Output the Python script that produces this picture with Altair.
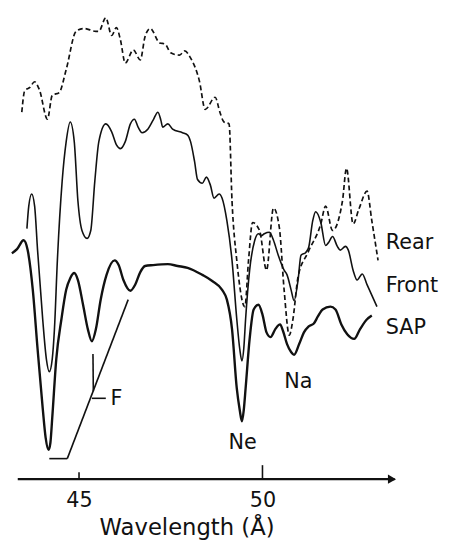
import altair as alt
import pandas as pd

# ---- spectra (wavelength in Angstrom, relative intensity) ----
rear_wl = [43.44, 43.52, 43.66, 43.79, 43.92, 44.14, 44.27, 44.46, 44.65, 44.92, 45.13, 45.46, 45.54, 45.73,
           45.89, 46.02, 46.13, 46.26, 46.48, 46.67, 46.80, 46.94, 47.20, 47.34, 47.50, 47.74, 47.88, 48.04,
           48.28, 48.44, 48.71, 48.84, 48.95, 49.09, 49.17, 49.30, 49.52, 49.62, 49.73, 49.92, 50.11, 50.30,
           50.46, 50.59, 50.73, 50.83, 50.97, 51.24, 51.59, 51.72, 51.91, 52.18, 52.29, 52.47, 52.63, 52.85,
           52.98, 53.15]
rear_int = [78.5, 83.1, 83.8, 85.0, 83.3, 77.0, 82.1, 82.7, 87.6, 95.8, 96.4, 95.8, 95.8, 98.7,
            94.9, 96.6, 93.9, 89.0, 91.8, 89.7, 94.7, 96.4, 93.3, 93.1, 91.2, 90.7, 91.6, 90.1,
            85.2, 79.1, 81.7, 78.5, 76.4, 76.0, 59.5, 46.8, 36.9, 46.8, 54.9, 53.2, 44.7, 58.0,
            53.8, 40.5, 30.8, 34.2, 43.3, 48.5, 54.6, 58.4, 53.2, 59.5, 66.5, 54.6, 57.8, 61.6,
            55.3, 46.8]

front_wl = [43.58, 43.63, 43.71, 43.79, 43.87, 44.01, 44.11, 44.19, 44.27, 44.33, 44.41, 44.54, 44.65, 44.76,
            44.87, 44.97, 45.08, 45.22, 45.32, 45.43, 45.54, 45.73, 45.89, 46.02, 46.13, 46.26, 46.40, 46.51,
            46.61, 46.72, 46.88, 47.02, 47.15, 47.23, 47.28, 47.42, 47.55, 47.82, 47.96, 48.04, 48.15, 48.23,
            48.36, 48.47, 48.58, 48.68, 48.82, 48.90, 49.03, 49.17, 49.30, 49.38, 49.44, 49.49, 49.54, 49.65,
            49.79, 49.89, 49.97, 50.05, 50.19, 50.30, 50.43, 50.59, 50.67, 50.78, 50.86, 50.97, 51.05, 51.18,
            51.26, 51.37, 51.45, 51.59, 51.72, 51.80, 51.91, 52.04, 52.12, 52.26, 52.34, 52.47, 52.58, 52.72,
            52.85, 53.12]
front_int = [53.6, 58.4, 61.0, 58.4, 49.0, 34.2, 25.7, 23.0, 25.7, 32.1, 46.8, 63.7, 72.2, 76.4,
             72.2, 59.5, 53.2, 51.5, 53.2, 63.7, 72.2, 76.0, 74.3, 71.5, 70.7, 72.2, 76.0, 77.0,
             75.3, 74.1, 74.9, 76.8, 78.5, 76.8, 75.3, 76.0, 74.9, 74.1, 73.6, 72.2, 67.9, 64.1,
             63.3, 64.6, 62.9, 60.1, 61.0, 60.1, 55.3, 46.8, 34.2, 27.9, 25.3, 27.9, 34.2, 44.7,
             51.1, 52.5, 52.1, 52.5, 52.8, 51.1, 47.9, 44.7, 43.7, 40.5, 38.2, 42.6, 47.9, 48.5,
             49.6, 55.3, 57.2, 54.9, 50.0, 50.6, 51.9, 49.8, 49.0, 49.8, 49.0, 44.7, 42.6, 43.9,
             41.6, 36.9]

sap_wl = [43.17, 43.31, 43.49, 43.60, 43.74, 43.87, 44.01, 44.09, 44.17, 44.22, 44.27, 44.38, 44.52, 44.65,
          44.76, 44.87, 44.97, 45.11, 45.24, 45.35, 45.46, 45.59, 45.75, 45.97, 46.08, 46.21, 46.40, 46.53,
          46.67, 46.80, 47.02, 47.42, 47.69, 47.96, 48.36, 48.63, 48.90, 49.03, 49.17, 49.30, 49.38, 49.44,
          49.49, 49.54, 49.65, 49.76, 49.89, 50.00, 50.11, 50.22, 50.35, 50.48, 50.56, 50.67, 50.78, 50.86,
          51.00, 51.13, 51.26, 51.40, 51.51, 51.64, 51.85, 51.99, 52.15, 52.31, 52.50, 52.66, 52.85, 52.98]
sap_int = [48.3, 49.2, 51.1, 49.0, 40.5, 27.9, 15.2, 8.9, 6.3, 7.8, 13.1, 25.7, 34.2, 40.5,
           43.0, 44.1, 42.6, 37.3, 32.1, 29.5, 32.1, 38.4, 43.7, 46.8, 45.8, 42.6, 40.3, 41.6,
           44.3, 45.6, 45.8, 46.0, 45.6, 45.2, 43.7, 42.4, 40.5, 38.4, 32.1, 19.4, 14.8, 12.4,
           14.8, 19.4, 30.0, 36.3, 37.3, 35.2, 31.4, 30.4, 32.1, 33.1, 31.7, 28.9, 27.2, 26.6,
           28.9, 31.4, 32.7, 33.3, 34.8, 36.3, 36.9, 36.3, 33.1, 31.0, 30.0, 32.1, 34.2, 35.0]

# curve labels
label_text = ["Rear", "Front", "SAP"]
label_wl = [53.36, 53.36, 53.36]
label_int = [50.4, 41.4, 32.3]

# line identification labels
line_text = ["F", "Ne", "Na"]
line_wl = [45.86, 49.46, 50.98]
line_int = [17.1, 7.8, 20.7]
line_align = ["left", "center", "center"]

# F marker segments (start wl, start int, end wl, end int)
seg_wl1 = [44.19, 44.68, 45.38, 45.35]
seg_int1 = [4.4, 4.4, 26.8, 17.3]
seg_wl2 = [44.68, 46.34, 45.39, 45.73]
seg_int2 = [4.4, 38.4, 18.8, 17.3]

# axis
axis_start, axis_end = 43.33, 53.60
tick_values = [45, 50]
tick_len = [1.5, 3.0]

INK = "#111111"
FONT = "DejaVu Sans"

rows = []
for name, wl, it in [("Rear", rear_wl, rear_int), ("Front", front_wl, front_int), ("SAP", sap_wl, sap_int)]:
    assert len(wl) == len(it), name
    for i, (w, v) in enumerate(zip(wl, it)):
        rows.append({"series": name, "wl": w, "I": v, "o": i})
spec = pd.DataFrame(rows)

xs = alt.Scale(domain=[43.1, 54.66], nice=False, zero=False)
ys = alt.Scale(domain=[0, 100], nice=False, zero=False)
xaxis = alt.Axis(values=tick_values, format="d", domain=False, ticks=False, tickSize=0, grid=False,
                 labelFontSize=21, labelFont=FONT, labelColor=INK, labelBaseline="alphabetic",
                 labelPadding=28, labelFlush=False,
                 title="Wavelength (Å)", titleFont=FONT, titleFontSize=23, titleFontWeight="normal",
                 titleColor=INK, titleX=179.7, titleY=56, titleBaseline="alphabetic", titleAlign="center")
X = alt.X("wl:Q", scale=xs, axis=xaxis)
Y = alt.Y("I:Q", scale=ys, axis=None)


def curve(name, width, dash=None):
    kw = dict(color=INK, strokeWidth=width, interpolate="monotone")
    if dash:
        kw["strokeDash"] = dash
    return alt.Chart(spec[spec.series == name]).mark_line(**kw).encode(x=X, y=Y, order="o:Q")


rear = curve("Rear", 1.7, [5, 3])
front = curve("Front", 1.6)
sap = curve("SAP", 2.4)

segs = pd.DataFrame({"wl": seg_wl1, "I": seg_int1, "wl2": seg_wl2, "I2": seg_int2})
seg_layer = alt.Chart(segs).mark_rule(color=INK, strokeWidth=1.6).encode(
    x=X, y=Y, x2="wl2:Q", y2="I2:Q")

axis_df = pd.DataFrame({"wl": [axis_start], "wl2": [axis_end], "I": [0.0]})
axis_line = alt.Chart(axis_df).mark_rule(color=INK, strokeWidth=2.2).encode(x=X, x2="wl2:Q", y=Y)
arrow = alt.Chart(pd.DataFrame({"wl": [axis_end - 0.07], "I": [0.0]})).mark_point(
    shape="triangle-right", filled=True, color=INK, size=90, opacity=1).encode(x=X, y=Y)
ticks_df = pd.DataFrame({"wl": tick_values, "I": [0.0, 0.0], "I2": tick_len})
tick_layer = alt.Chart(ticks_df).mark_rule(color=INK, strokeWidth=1.6).encode(x=X, y=Y, y2="I2:Q")

lab_df = pd.DataFrame({"wl": label_wl, "I": label_int, "t": label_text})
labels = alt.Chart(lab_df).mark_text(font=FONT, fontSize=21, align="left", baseline="middle",
                                     color=INK).encode(x=X, y=Y, text="t:N")

lines_layers = []
for t, w, v, a in zip(line_text, line_wl, line_int, line_align):
    d = pd.DataFrame({"wl": [w], "I": [v], "t": [t]})
    lines_layers.append(alt.Chart(d).mark_text(font=FONT, fontSize=21, align=a, baseline="middle",
                                               color=INK).encode(x=X, y=Y, text="t:N"))

chart = alt.layer(rear, front, sap, seg_layer, axis_line, arrow, tick_layer, labels, *lines_layers).properties(
    width=430, height=474,
    autosize=alt.AutoSizeParams(type="none"),
    padding={"left": 1.33, "top": 0, "right": 8.67, "bottom": 62},
    background="white",
).configure_view(stroke=None)

chart.save("out.html", embed_options={"renderer": "svg", "actions": False})
